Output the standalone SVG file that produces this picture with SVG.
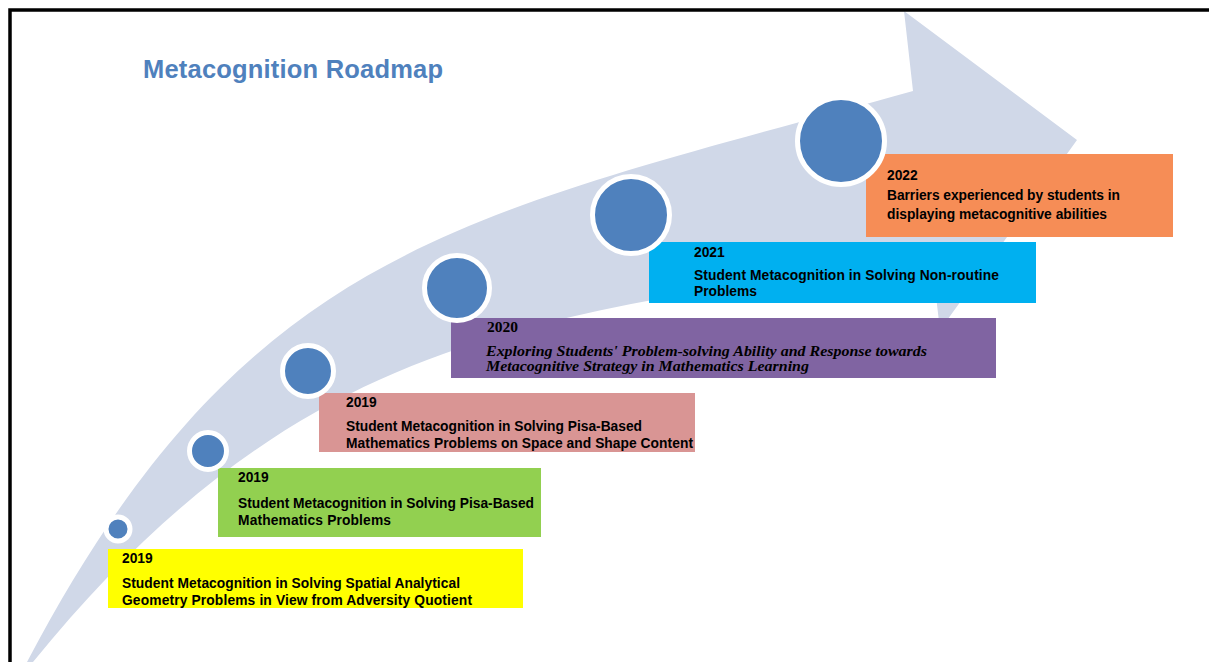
<svg xmlns="http://www.w3.org/2000/svg" width="1209" height="662" viewBox="0 0 1209 662">
<style>
.t{font-family:"Liberation Sans",Arial,sans-serif;font-weight:700;font-size:13.8px;fill:#000}
.s{font-family:"Liberation Serif","Times New Roman",serif;font-weight:700;font-size:15.5px;fill:#000}
.si{font-style:italic}
.dot{fill:#4F81BD;stroke:#FFFFFF;stroke-width:5}
.title{font-family:"Liberation Sans",Arial,sans-serif;font-weight:700;font-size:25.5px;fill:#4F81BD}
</style>
<rect x="0" y="0" width="1209" height="662" fill="#FFFFFF"/>
<g id="connectors">
<path id="arrow" d="M27,662 C247,244 463,216 913,91 L904,11 L1077,140 L940,330 L931,254 C551,319 313,318 33,662 Z" fill="#D0D8E8"/>
</g>
<path d="M10,662 V10 H1209" fill="none" stroke="#000" stroke-width="3.5"/>
<text class="title" x="143" y="78" textLength="300">Metacognition Roadmap</text>
<g id="node-2019a">
<rect x="108" y="549" width="415" height="59" fill="#FFFF00"/>
<text class="t" x="122" y="563">2019</text>
<text class="t" x="122" y="588" textLength="338">Student Metacognition in Solving Spatial Analytical</text>
<text class="t" x="122" y="604.5" textLength="350">Geometry Problems in View from Adversity Quotient</text>
<circle class="dot" cx="118" cy="529" r="12"/>
</g>
<g id="node-2019b">
<rect x="218" y="468" width="323" height="69" fill="#92D050"/>
<text class="t" x="238" y="482">2019</text>
<text class="t" x="238" y="507.5" textLength="296">Student Metacognition in Solving Pisa-Based</text>
<text class="t" x="238" y="524.5" textLength="153">Mathematics Problems</text>
<circle class="dot" cx="208" cy="451" r="18.5"/>
</g>
<g id="node-2019c">
<rect x="319" y="393" width="376" height="59" fill="#D99594"/>
<text class="t" x="346" y="407">2019</text>
<text class="t" x="346" y="431" textLength="296">Student Metacognition in Solving Pisa-Based</text>
<text class="t" x="346" y="448" textLength="347">Mathematics Problems on Space and Shape Content</text>
<circle class="dot" cx="308" cy="371" r="25.5"/>
</g>
<g id="node-2020">
<rect x="451" y="318" width="545" height="60" fill="#8064A2"/>
<text class="s" x="487" y="332">2020</text>
<text class="s si" x="486" y="356" textLength="441" lengthAdjust="spacingAndGlyphs">Exploring Students' Problem-solving Ability and Response towards</text>
<text class="s si" x="486" y="371" textLength="323" lengthAdjust="spacingAndGlyphs">Metacognitive Strategy in Mathematics Learning</text>
<circle class="dot" cx="457" cy="288" r="32.5"/>
</g>
<g id="node-2021">
<rect x="649" y="242" width="387" height="61" fill="#00B0F0"/>
<text class="t" x="694" y="256.5">2021</text>
<text class="t" x="694" y="279.5" textLength="305">Student Metacognition in Solving Non-routine</text>
<text class="t" x="694" y="296">Problems</text>
<circle class="dot" cx="631" cy="215" r="38.5"/>
</g>
<g id="node-2022">
<rect x="866" y="154" width="307" height="83" fill="#F68D56"/>
<text class="t" x="887" y="179.5">2022</text>
<text class="t" x="887" y="199.5" textLength="233">Barriers experienced by students in</text>
<text class="t" x="887" y="218.5" textLength="220">displaying metacognitive abilities</text>
<circle class="dot" cx="841" cy="141" r="43.5"/>
</g>
</svg>
